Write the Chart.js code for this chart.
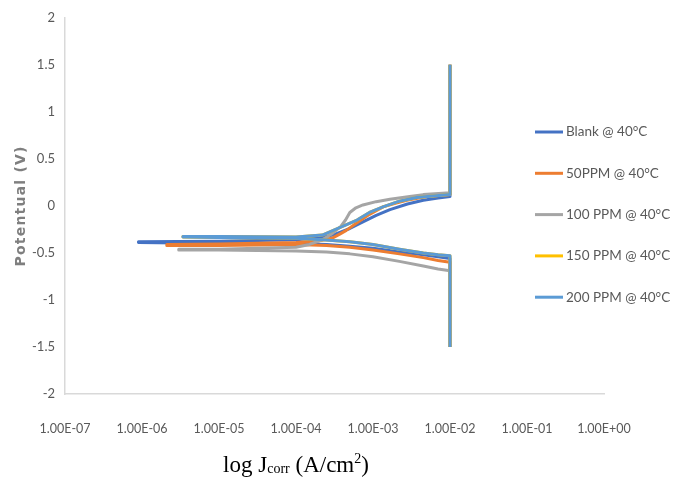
<!DOCTYPE html>
<html>
<head>
<meta charset="utf-8">
<script src="https://cdn.jsdelivr.net/npm/chart.js@4.4.1/dist/chart.umd.min.js"></script>
<style>
  body { margin: 0; background: #fff; }
  #wrap { width: 673px; height: 485px; position: relative; }
</style>
</head>
<body>
<div id="wrap"><canvas id="c"></canvas></div>
<script>
// series names and colours (legend order)
const seriesNames = ['Blank @ 40°C', '50PPM @ 40°C', '100 PPM @ 40°C', '150 PPM @ 40°C', '200 PPM @ 40°C'];
const seriesColors = ['#4472C4', '#ED7D31', '#A5A5A5', '#FFC000', '#5B9BD5'];

// x tick decades (log10 of current density)
const xDecades = [-7, -6, -5, -4, -3, -2, -1, 0];

// each curve: cathodic branch walked in from 1E-2 down to the low current end,
// then back out along the anodic branch up to 1E-2 again
const blankCurrent = [1e-2, 1e-2, 7e-3, 4.5e-3, 2.2e-3, 1e-3, 5e-4, 2.5e-4, 1e-4, 1e-5, 9e-7,
  9e-7, 1e-5, 1e-4, 2e-4, 3e-4, 4e-4, 5e-4, 7.4e-4, 1.1e-3, 1.66e-3, 2.8e-3, 4.5e-3, 7e-3, 1e-2, 1e-2];
const blankPotential = [-1.5, -0.56, -0.54, -0.52, -0.49, -0.45, -0.43, -0.41, -0.40, -0.40, -0.39,
  -0.38, -0.375, -0.36, -0.34, -0.31, -0.27, -0.24, -0.17, -0.10, -0.04, 0.02, 0.06, 0.085, 0.10, 1.5];

const ppm50Current = [1e-2, 1e-2, 7e-3, 4.5e-3, 2.2e-3, 1e-3, 5e-4, 2.5e-4, 1e-4, 1e-5, 2.1e-6,
  2.1e-6, 1e-5, 1e-4, 2e-4, 3e-4, 3.7e-4, 4.5e-4, 6.2e-4, 9e-4, 1.35e-3, 2e-3, 2.75e-3, 5e-3, 1e-2, 1e-2];
const ppm50Potential = [-1.5, -0.60, -0.58, -0.55, -0.51, -0.47, -0.44, -0.42, -0.41, -0.42, -0.42,
  -0.41, -0.405, -0.39, -0.37, -0.34, -0.30, -0.26, -0.18, -0.09, -0.01, 0.03, 0.06, 0.10, 0.12, 1.5];

const ppm100Current = [1e-2, 1e-2, 7e-3, 4.5e-3, 2.2e-3, 1e-3, 5e-4, 2.5e-4, 1e-4, 1e-5, 3e-6,
  3e-6, 1e-5, 1e-4, 1.5e-4, 2.2e-4, 3e-4, 3.8e-4, 4.4e-4, 5e-4, 6e-4, 7.4e-4, 1.1e-3, 1.66e-3, 3e-3, 4.5e-3, 1e-2, 1e-2];
const ppm100Potential = [-1.5, -0.69, -0.67, -0.64, -0.59, -0.54, -0.51, -0.49, -0.48, -0.47, -0.47,
  -0.46, -0.46, -0.44, -0.41, -0.36, -0.29, -0.22, -0.15, -0.07, -0.02, 0.01, 0.045, 0.07, 0.10, 0.12, 0.14, 1.5];

const ppm150Current = [1e-2, 1e-2, 7e-3, 4.5e-3, 2.2e-3, 1e-3, 5e-4, 2.2e-4, 1e-4, 1e-5, 3.4e-6,
  3.4e-6, 1e-5, 1e-4, 2.2e-4, 3.5e-4, 6.2e-4, 9e-4, 1.35e-3, 2.2e-3, 3.7e-3, 1e-2, 1e-2];
const ppm150Potential = [-1.5, -0.53, -0.52, -0.50, -0.46, -0.41, -0.38, -0.36, -0.345, -0.335, -0.33,
  -0.325, -0.325, -0.33, -0.31, -0.24, -0.15, -0.07, -0.01, 0.05, 0.09, 0.12, 1.5];

const ppm200Current = [1e-2, 1e-2, 7e-3, 4.5e-3, 2.2e-3, 1e-3, 5e-4, 2.2e-4, 1e-4, 1e-5, 3.4e-6,
  3.4e-6, 1e-5, 1e-4, 2.2e-4, 3.5e-4, 6.2e-4, 9e-4, 1.35e-3, 2.2e-3, 3.7e-3, 1e-2, 1e-2];
const ppm200Potential = [-1.5, -0.53, -0.52, -0.50, -0.46, -0.41, -0.38, -0.36, -0.345, -0.335, -0.33,
  -0.325, -0.325, -0.33, -0.31, -0.24, -0.15, -0.07, -0.01, 0.05, 0.09, 0.12, 1.5];

const currents = [blankCurrent, ppm50Current, ppm100Current, ppm150Current, ppm200Current];
const potentials = [blankPotential, ppm50Potential, ppm100Potential, ppm150Potential, ppm200Potential];

const narrow = "Lato, 'Liberation Sans', sans-serif";
const tickGray = '#595959';

// legend drawn over the plot on the right, like the excel one
const sideLegend = {
  id: 'sideLegend',
  afterDraw(chart) {
    const ctx = chart.ctx;
    ctx.save();
    ctx.font = '13.5px ' + narrow;
    ctx.textBaseline = 'middle';
    chart.data.datasets.forEach((ds, i) => {
      const y = 132 + i * 41.3;
      ctx.strokeStyle = ds.borderColor;
      ctx.lineWidth = 3;
      ctx.beginPath();
      ctx.moveTo(535, y);
      ctx.lineTo(563, y);
      ctx.stroke();
      ctx.fillStyle = tickGray;
      ctx.fillText(ds.label, 566, y);
    });
    ctx.restore();
  }
};

// axis titles: x one has subscript / superscript, y one is letter-spaced
const axisTitles = {
  id: 'axisTitles',
  afterDraw(chart) {
    const ctx = chart.ctx;
    const area = chart.chartArea;

    ctx.save();
    ctx.translate(21, (area.top + area.bottom) / 2);
    ctx.rotate(-Math.PI / 2);
    ctx.font = "bold 14px 'DejaVu Sans', sans-serif";
    ctx.letterSpacing = '1.2px';
    ctx.fillStyle = '#7f7f7f';
    ctx.textAlign = 'center';
    ctx.textBaseline = 'middle';
    ctx.fillText('Potentual (V)', 0, 0);
    ctx.restore();

    const parts = [
      { t: 'log J', size: 23, dy: 0 },
      { t: 'corr', size: 14, dy: 1 },
      { t: ' (A/cm', size: 23, dy: 0 },
      { t: '2', size: 14, dy: -9 },
      { t: ')', size: 23, dy: 0 }
    ];
    ctx.save();
    ctx.fillStyle = '#000';
    ctx.textBaseline = 'alphabetic';
    let w = 0;
    parts.forEach(p => {
      ctx.font = p.size + "px 'Liberation Serif', serif";
      p.w = ctx.measureText(p.t).width;
      w += p.w;
    });
    let x = 296 - w / 2;
    parts.forEach(p => {
      ctx.font = p.size + "px 'Liberation Serif', serif";
      ctx.fillText(p.t, x, 472 + p.dy);
      x += p.w;
    });
    ctx.restore();
  }
};

const datasets = seriesNames.map((name, i) => ({
  label: name,
  data: currents[i].map((c, k) => ({ x: c, y: potentials[i][k] })),
  borderColor: seriesColors[i],
  backgroundColor: seriesColors[i],
  borderWidth: 3,
  borderJoinStyle: 'round',
  pointRadius: 0,
  showLine: true,
  tension: 0,
  fill: false,
  order: seriesNames.length - i // last series sits on top
}));

new Chart(document.getElementById('c'), {
  type: 'scatter',
  data: { datasets },
  options: {
    responsive: true,
    maintainAspectRatio: false,
    animation: false,
    layout: { padding: { top: 10, right: 69, bottom: 0, left: 0 } },
    plugins: {
      legend: { display: false },
      tooltip: { enabled: false }
    },
    scales: {
      x: {
        type: 'logarithmic',
        min: 1e-7,
        max: 1,
        grid: { display: false, drawTicks: false },
        border: { display: true, color: '#d9d9d9', width: 1.5 },
        afterBuildTicks: s => { s.ticks = xDecades.map(e => ({ value: Math.pow(10, e) })); },
        afterFit: s => { s.height = 91; },
        ticks: {
          color: tickGray,
          padding: 27,
          maxRotation: 0,
          autoSkip: false,
          font: { family: narrow, size: 12.5 },
          callback: v => {
            const e = Math.round(Math.log10(v));
            return '1.00E' + (e < 0 ? '-' : '+') + String(Math.abs(e)).padStart(2, '0');
          }
        }
      },
      y: {
        min: -2,
        max: 2,
        grid: { display: false, drawTicks: false },
        border: { display: true, color: '#d9d9d9', width: 1.5 },
        afterFit: s => { s.width = 65; },
        ticks: {
          stepSize: 0.5,
          color: tickGray,
          padding: 10,
          font: { family: narrow, size: 13 },
          callback: v => String(Math.round(v * 10) / 10)
        }
      }
    }
  },
  plugins: [sideLegend, axisTitles]
});
</script>
</body>
</html>
